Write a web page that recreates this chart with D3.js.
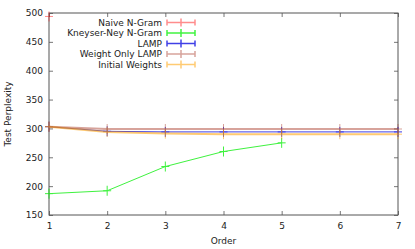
<!DOCTYPE html>
<html>
<head>
<meta charset="utf-8">
<script src="https://cdn.jsdelivr.net/npm/d3@7"></script>
<style>
  body { margin: 0; background: #fff; }
  text { font-family: "DejaVu Sans", sans-serif; }
</style>
</head>
<body>
<div id="chart"></div>
<script>
const width = 415;
const height = 249;

const orders = [1, 2, 3, 4, 5, 6, 7];
const xTicks = [1, 2, 3, 4, 5, 6, 7];
const yTicks = [150, 200, 250, 300, 350, 400, 450, 500];

const naive = [494];
const kneyser = [187, 192, 234, 260, 275];
const lamp = [303, 295, 294, 294, 294, 294, 294];
const weightOnly = [303, 299, 299, 299, 299, 299, 299];
const initial = [303, 294, 291, 290, 290, 290, 290];

const series = [
    { name: "Naive N-Gram", values: naive, color: "#ff0000", opacity: 0.45, width: 1 },
    { name: "Kneyser-Ney N-Gram", values: kneyser, color: "#00ee00", opacity: 0.75, width: 1 },
    { name: "LAMP", values: lamp, color: "#0000dd", opacity: 0.75, width: 1 },
    { name: "Weight Only LAMP", values: weightOnly, color: "#b04a3a", opacity: 0.5, width: 2 },
    { name: "Initial Weights", values: initial, color: "#ffa000", opacity: 0.55, width: 2 }
];

const margin = { top: 13, right: 17, bottom: 34, left: 49 };

const svg = d3.select("#chart").append("svg")
    .attr("width", width)
    .attr("height", height);

const x = d3.scaleLinear().domain([1, 7]).range([margin.left, width - margin.right]);
const y = d3.scaleLinear().domain([150, 500]).range([height - margin.bottom, margin.top]);

const x0 = x.range()[0], x1 = x.range()[1];
const y0 = y.range()[0], y1 = y.range()[1];

// axes with inward ticks, gnuplot style
const tickLen = 4;
svg.append("g")
    .attr("transform", `translate(0,${y0})`)
    .call(d3.axisBottom(x).tickValues(xTicks).tickSizeInner(-tickLen).tickSizeOuter(0).tickPadding(8).tickFormat(d3.format("d")))
    .call(g => g.select(".domain").remove());
svg.append("g")
    .attr("transform", `translate(0,${y1})`)
    .call(d3.axisTop(x).tickValues(xTicks).tickSizeInner(-tickLen).tickSizeOuter(0).tickFormat(""))
    .call(g => g.select(".domain").remove());
svg.append("g")
    .attr("transform", `translate(${x0},0)`)
    .call(d3.axisLeft(y).tickValues(yTicks).tickSizeInner(-tickLen).tickSizeOuter(0).tickPadding(6))
    .call(g => g.select(".domain").remove());
svg.append("g")
    .attr("transform", `translate(${x1},0)`)
    .call(d3.axisRight(y).tickValues(yTicks).tickSizeInner(-tickLen).tickSizeOuter(0).tickFormat(""))
    .call(g => g.select(".domain").remove());

svg.selectAll(".tick line").attr("stroke", "#777");
svg.selectAll(".tick text").attr("fill", "#222").style("font-size", "9px");

svg.append("rect")
    .attr("x", x0).attr("y", y1)
    .attr("width", x1 - x0).attr("height", y0 - y1)
    .attr("fill", "none").attr("stroke", "#555").attr("stroke-width", 1);

// series
const line = d3.line().x((d, i) => x(orders[i])).y(d => y(d));

series.forEach(s => {
    const g = svg.append("g").attr("opacity", s.opacity);
    g.append("path")
        .datum(s.values)
        .attr("d", line)
        .attr("fill", "none")
        .attr("stroke", s.color)
        .attr("stroke-width", s.width);
    g.selectAll(".pt").data(s.values).enter().append("path")
        .attr("d", (d, i) => {
            const px = x(orders[i]), py = y(d);
            return `M${px - 4},${py}H${px + 4}M${px},${py - 5}V${py + 5}`;
        })
        .attr("stroke", s.color)
        .attr("stroke-width", 1)
        .attr("fill", "none");
});

// legend
const legend = svg.append("g");
series.forEach((s, i) => {
    const ly = 22.5 + i * 10.5;
    legend.append("text")
        .attr("x", 162).attr("y", ly)
        .attr("dy", "0.35em")
        .attr("text-anchor", "end")
        .style("font-size", "9px")
        .attr("fill", "#222")
        .text(s.name);
    legend.append("path")
        .attr("d", `M167,${ly}H195M167,${ly - 3}V${ly + 3}M195,${ly - 3}V${ly + 3}M181,${ly - 4}V${ly + 4}`)
        .attr("stroke", s.color)
        .attr("stroke-width", 1.5)
        .attr("opacity", s.opacity)
        .attr("fill", "none");
});

// axis labels
svg.append("text")
    .attr("x", (x0 + x1) / 2).attr("y", 244)
    .attr("text-anchor", "middle")
    .style("font-size", "9px")
    .attr("fill", "#222")
    .text("Order");
svg.append("text")
    .attr("transform", `translate(11,${(y0 + y1) / 2}) rotate(-90)`)
    .attr("text-anchor", "middle")
    .style("font-size", "9px")
    .attr("fill", "#222")
    .text("Test Perplexity");
</script>
</body>
</html>
